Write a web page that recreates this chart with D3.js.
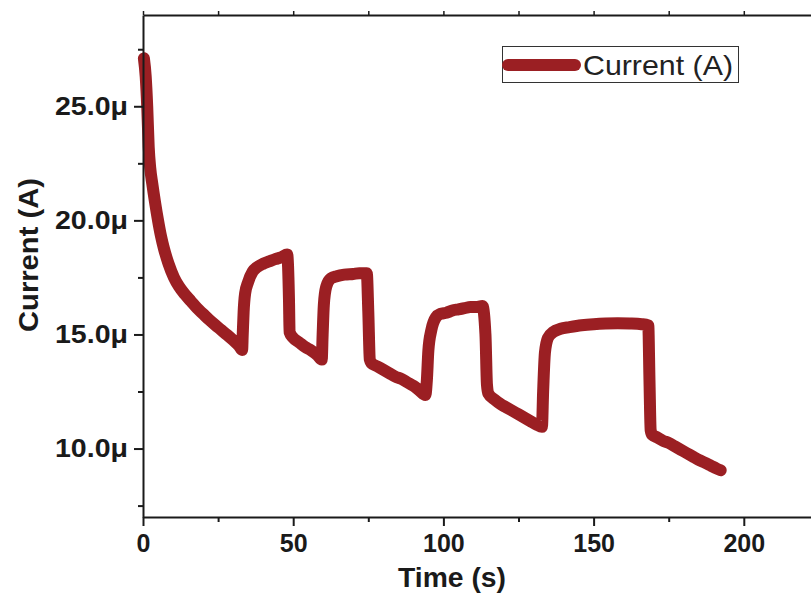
<!DOCTYPE html>
<html>
<head>
<meta charset="utf-8">
<script src="https://cdn.jsdelivr.net/npm/d3@7"></script>
<style>
  html, body { margin: 0; padding: 0; background: #fff; }
  svg { display: block; }
  text { font-family: "Liberation Sans", Arial, sans-serif; }
</style>
</head>
<body>
<svg id="chart" width="811" height="594"></svg>
<script>
// Photocurrent response: time (s) and measured current (µA)
const timeS = [
  0.3, 0.9, 1.4, 1.9, 2.4, 3.1, 4.0, 5.0, 6.0, 7.0, 8.5, 10.3, 12, 14, 16, 18, 20, 22, 24, 26, 28, 30, 32, 33,
  33.2, 33.5, 34.0, 35.0, 36.5, 38, 40, 42, 44, 46, 48,
  48.6, 48.8, 50, 52, 54, 56, 58, 59.5,
  59.8, 60.2, 61, 62.5, 64.5, 67, 70, 72, 74.5,
  75, 75.5, 76, 78, 80, 82, 84, 86, 88, 90, 92, 94,
  94.5, 95, 96, 97.5, 99, 101, 103, 105, 107, 109, 111, 113,
  114, 114.5, 115, 117, 119, 121, 123, 125, 127, 129, 131, 132.8,
  133.2, 133.8, 134.8, 136.5, 139, 142, 146, 150, 154, 158, 162, 166, 168.2,
  168.6, 169, 169.5, 171, 173, 175, 177, 179, 181, 183, 185, 187, 189, 191, 192.3
];
const currentUA = [
  27.1, 26.3, 25.0, 23.2, 22.3, 21.6, 20.8, 20.0, 19.3, 18.75, 18.1, 17.5, 17.1, 16.75, 16.45, 16.15, 15.9, 15.65, 15.42, 15.2, 14.98, 14.75, 14.5, 14.32,
  15.0, 16.0, 16.8, 17.3, 17.75, 17.95, 18.1, 18.2, 18.3, 18.38, 18.5,
  16.5, 15.1, 14.85, 14.65, 14.45, 14.3, 14.1, 13.9,
  15.0, 16.3, 17.1, 17.45, 17.55, 17.62, 17.65, 17.68, 17.68,
  16.0, 13.9, 13.75, 13.6, 13.45, 13.3, 13.15, 13.05, 12.9, 12.75, 12.55, 12.35,
  13.0, 14.3, 15.2, 15.75, 15.9, 15.95, 16.05, 16.1, 16.15, 16.2, 16.2, 16.25,
  15.0, 12.8, 12.4, 12.15, 11.95, 11.8, 11.65, 11.5, 11.35, 11.2, 11.05, 10.95,
  12.5, 14.2, 14.85, 15.1, 15.25, 15.32, 15.4, 15.45, 15.48, 15.49, 15.48, 15.45, 15.4,
  13.0, 10.8, 10.6, 10.5, 10.35, 10.25, 10.1, 9.95, 9.8, 9.65, 9.5, 9.38, 9.25, 9.12, 9.05
];
const xTicks = [0, 50, 100, 150, 200];
const xMinorTicks = [25, 75, 125, 175, 225];
const yTicks = [10, 15, 20, 25];
const yMinorTicks = [7.5, 12.5, 17.5, 22.5, 27.5];
const seriesName = "Current (A)";
const xTitle = "Time (s)";
const yTitle = "Current (A)";

const svg = d3.select("#chart");
const plotLeft = 143, plotTop = 15, plotBottom = 517;
const x = d3.scaleLinear().domain([0, 225]).range([plotLeft, plotLeft + 225 * 3.004]);
const y = d3.scaleLinear().domain([7, 29]).range([plotBottom, plotTop]);
const lineColor = "#9b1f23";
const axisColor = "#1a1a1a";

const data = timeS.map((t, i) => ({ t, v: currentUA[i] }));

// data trace
const line = d3.line().x(d => x(d.t)).y(d => y(d.v)).curve(d3.curveMonotoneX);
svg.append("path")
  .datum(data)
  .attr("d", line)
  .attr("fill", "none")
  .attr("stroke", lineColor)
  .attr("stroke-width", 12)
  .attr("stroke-linejoin", "round")
  .attr("stroke-linecap", "round");

// axes
const fmt = d => d.toFixed(1) + "μ";
const styleAxis = g => {
  g.select(".domain").attr("stroke", axisColor).attr("stroke-width", 2);
  g.selectAll(".tick line").attr("stroke", axisColor).attr("stroke-width", 2);
  g.selectAll(".tick text")
    .attr("fill", "#1a1a1a")
    .attr("font-weight", "bold")
    .attr("font-size", 25);
};

svg.append("g")
  .attr("transform", `translate(0,${plotBottom})`)
  .call(d3.axisBottom(x).tickValues(xTicks).tickSize(9).tickPadding(8).tickSizeOuter(0))
  .call(styleAxis);
svg.append("g")
  .attr("transform", `translate(0,${plotBottom})`)
  .call(d3.axisBottom(x).tickValues(xMinorTicks).tickSize(5).tickFormat("").tickSizeOuter(0))
  .call(g => g.select(".domain").remove())
  .call(g => g.selectAll(".tick line").attr("stroke", axisColor).attr("stroke-width", 2));

svg.append("g")
  .attr("transform", `translate(${plotLeft},0)`)
  .call(d3.axisLeft(y).tickValues(yTicks).tickFormat(fmt).tickSize(9).tickPadding(6).tickSizeOuter(0))
  .call(styleAxis)
  .call(g => g.selectAll(".tick text")
    .attr("textLength", 73)
    .attr("lengthAdjust", "spacingAndGlyphs"));
svg.append("g")
  .attr("transform", `translate(${plotLeft},0)`)
  .call(d3.axisLeft(y).tickValues(yMinorTicks).tickSize(5).tickFormat("").tickSizeOuter(0))
  .call(g => g.select(".domain").remove())
  .call(g => g.selectAll(".tick line").attr("stroke", axisColor).attr("stroke-width", 2));

// top frame axis
svg.append("g")
  .attr("transform", `translate(0,${plotTop})`)
  .call(d3.axisTop(x).tickValues(xTicks.concat(xMinorTicks)).tickSize(4).tickFormat("").tickSizeOuter(0))
  .call(g => g.select(".domain").attr("stroke", axisColor).attr("stroke-width", 2))
  .call(g => g.selectAll(".tick line").attr("stroke", axisColor).attr("stroke-width", 1.5));

// axis titles
svg.append("text")
  .attr("x", 452).attr("y", 587)
  .attr("text-anchor", "middle")
  .attr("font-weight", "bold").attr("font-size", 27)
  .attr("textLength", 108).attr("lengthAdjust", "spacingAndGlyphs")
  .attr("fill", "#1a1a1a")
  .text(xTitle);
svg.append("text")
  .attr("transform", "translate(38,255) rotate(-90)")
  .attr("text-anchor", "middle")
  .attr("font-weight", "bold").attr("font-size", 28)
  .attr("textLength", 154).attr("lengthAdjust", "spacingAndGlyphs")
  .attr("fill", "#1a1a1a")
  .text(yTitle);

// legend
const lg = svg.append("g");
lg.append("rect")
  .attr("x", 502.5).attr("y", 46.5).attr("width", 236).attr("height", 36)
  .attr("fill", "#fff").attr("stroke", "#333").attr("stroke-width", 1);
lg.append("line")
  .attr("x1", 508).attr("x2", 575).attr("y1", 65).attr("y2", 65)
  .attr("stroke", lineColor).attr("stroke-width", 12).attr("stroke-linecap", "round");
lg.append("text")
  .attr("x", 583).attr("y", 75)
  .attr("font-size", 28).attr("fill", "#222")
  .attr("textLength", 150).attr("lengthAdjust", "spacingAndGlyphs")
  .text(seriesName);
</script>
</body>
</html>
